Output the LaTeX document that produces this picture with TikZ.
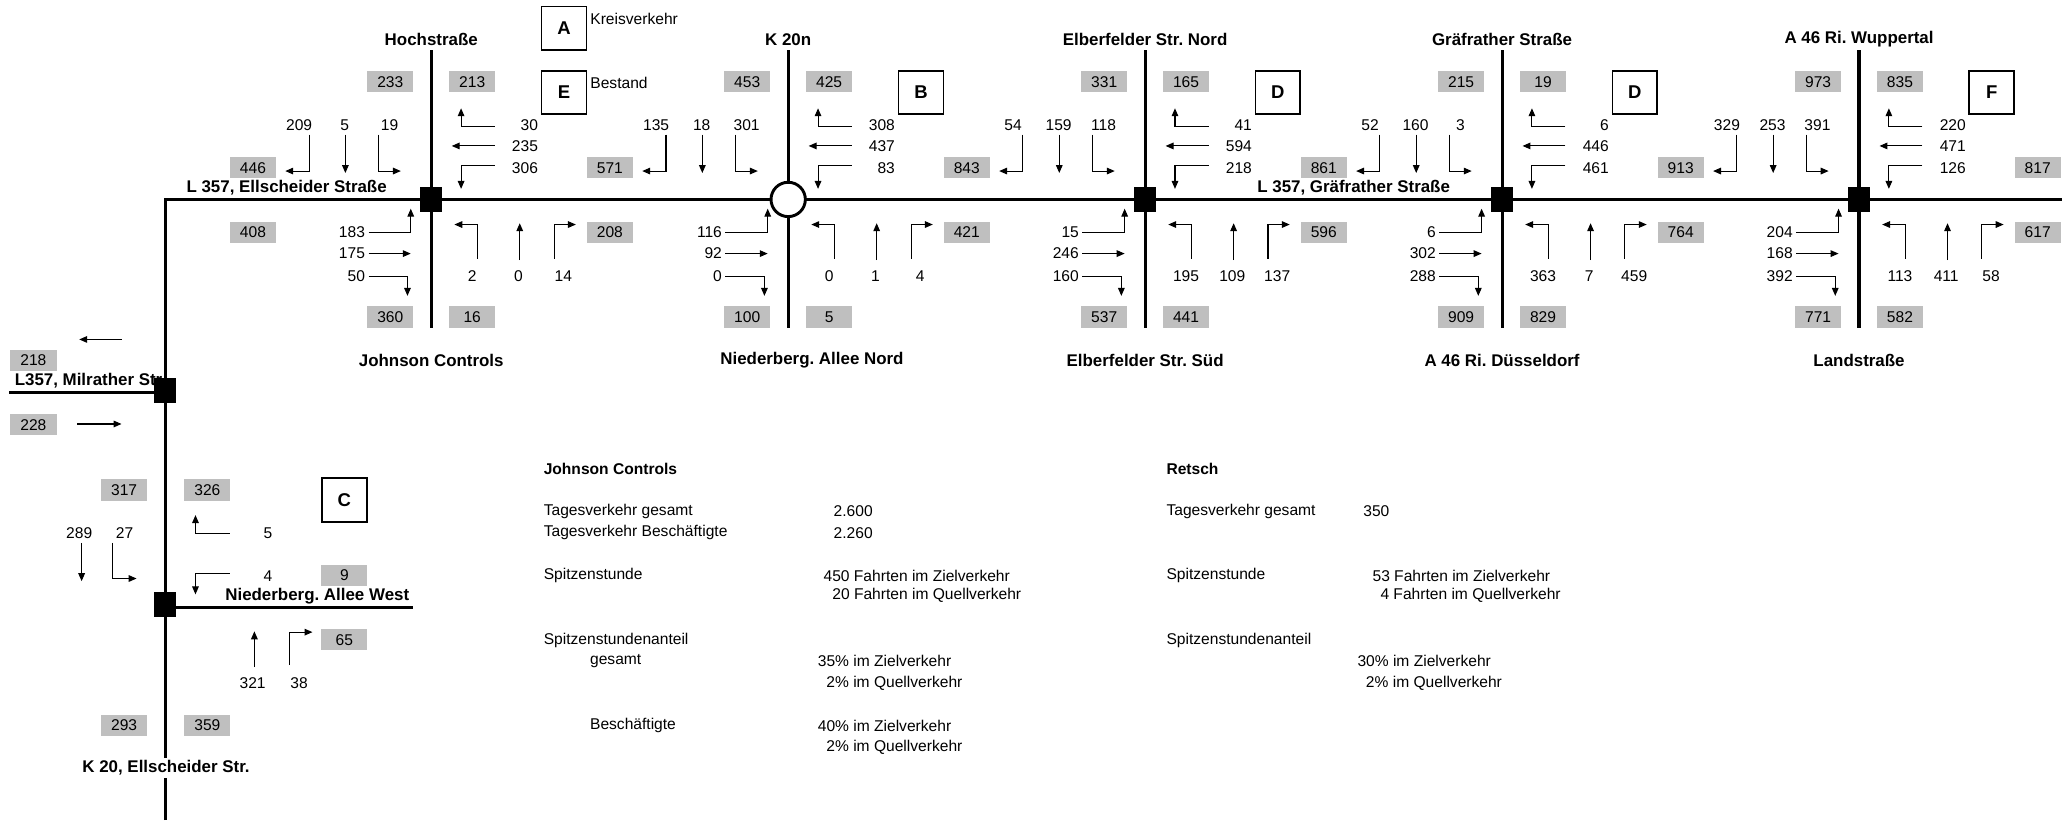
\documentclass[tikz,border=0pt]{standalone}
\usepackage{fontspec}
\setmainfont{Liberation Sans}
\usetikzlibrary{arrows.meta, positioning, calc}
\frenchspacing

\begin{document}
\begin{tikzpicture}[x=1pt, y=-1pt, >={Triangle[length=6pt, width=5pt]},
  every node/.style={inner sep=0pt},
  font=\fontsize{11.8}{14}\selectfont,
  strasse/.style={line width=2.4pt},
  fahrt/.style={->, line width=0.8pt},
  wert/.style={fill=gray!50, minimum width=35pt, minimum height=16pt},
  bez/.style={font=\fontsize{12.8}{15}\selectfont\bfseries},
  kenn/.style={draw, line width=1.3pt, minimum width=34pt, minimum height=33pt,
    font=\fontsize{14}{16}\selectfont\bfseries}]

\useasboundingbox (0,0) rectangle (1568,621);

% --- Strassen ---
\draw[strasse, line join=miter] (125,621) -- (125,151) -- (1561,151);
\draw[strasse] (7,297) -- (125,297);
\draw[strasse] (125,460) -- (313,460);
\foreach \i in {0,...,4}{
  \pgfmathsetmacro{\X}{326.5+270.25*\i}
  \draw[strasse] (\X,38) -- (\X,248);
}

% --- Strassennamen ---
\node[bez, anchor=east] (ellsch) at (293,142) {L 357, Ellscheider Straße};
\node[bez, anchor=east] (graefr) at (1098,142) {L 357, Gräfrather Straße};
\node[bez, anchor=west] (milr) at (11,288) {L357, Milrather Str.};
\node[bez, anchor=east] (nawest) at (310,451.5) {Niederberg. Allee West};
\node[bez, fill=white, inner ysep=2pt] (k20) at (125.7,581.5) {K 20, Ellscheider Str.};

% --- Knotenpunkte ---
\foreach \i in {0,2,3,4}{
  \pgfmathsetmacro{\X}{326.5+270.25*\i}
  \node[fill, minimum width=17pt, minimum height=19pt] (k\i) at (\X,151) {};
}
\node[circle, draw, fill=white, line width=2.2pt, minimum size=26pt] (k1) at (596.75,151) {};
\node[fill, minimum width=17pt, minimum height=19pt] (kmilr) at (125,295.5) {};
\node[fill, minimum width=17pt, minimum height=19pt] (kwest) at (125,458) {};

% --- Namen und Querschnittswerte je Knoten ---
\foreach \i/\oben/\unten/\dx/\nwl/\nwr/\swl/\swr/\kz in {
  0/Hochstraße/Johnson Controls/0/233/213/360/16/E,
  1/K 20n/Niederberg. Allee Nord/18/453/425/100/5/B,
  2/Elberfelder Str. Nord/Elberfelder Str. Süd/0/331/165/537/441/D,
  3/Gräfrather Straße/A 46 Ri. Düsseldorf/0/215/19/909/829/D,
  4/A 46 Ri. Wuppertal/Landstraße/0/973/835/771/582/F}{
  \pgfmathsetmacro{\X}{326.5+270.25*\i}
  \node[bez] (oben\i) at (\X,30) {\oben};
  \node[bez] (unten\i) at (\X+\dx,272.6) {\unten};
  \node[wert] (nwl\i) at (\X-31,62) {\nwl};
  \node[wert] (nwr\i) at (\X+31,62) {\nwr};
  \node[wert] (swl\i) at (\X-31,240) {\swl};
  \node[wert] (swr\i) at (\X+31,240) {\swr};
  \node[kenn] (kz\i) at (\X+100.5,70) {\kz};
}
\node[kenn] (kzA) at (427,21.5) {A};
\node[anchor=west] (kreis) at (446.8,14) {Kreisverkehr};
\node[anchor=west] (bestand) at (446.8,62.6) {Bestand};

% --- Querschnitte zwischen den Knoten ---
\foreach \i/\w/\o in {0/446/408, 1/571/208, 2/843/421, 3/861/596, 4/913/764, 5/817/617}{
  \pgfmathsetmacro{\X}{326.5+270.25*\i-135}
  \node[wert] (qw\i) at (\X,127) {\w};
  \node[wert] (qo\i) at (\X,176) {\o};
}

% --- Abbiegestroeme ---
\foreach \i/\ta/\tb/\tc/\ra/\rb/\rc/\la/\lb/\lc/\ba/\bb/\bc in {
  0/209/5/19/30/235/306/183/175/50/2/0/14,
  1/135/18/301/308/437/83/116/92/0/0/1/4,
  2/54/159/118/41/594/218/15/246/160/195/109/137,
  3/52/160/3/6/446/461/6/302/288/363/7/459,
  4/329/253/391/220/471/126/204/168/392/113/411/58}{
  \pgfmathsetmacro{\X}{326.5+270.25*\i}
  % von Norden
  \node (ta\i) at (\X-100,95) {\ta};
  \node (tb\i) at (\X-65.5,95) {\tb};
  \node (tc\i) at (\X-31.5,95) {\tc};
  \draw[fahrt] (\X-92.5,102) |- (\X-110.5,129.5);
  \draw[fahrt] (\X-65,102) -- (\X-65,131);
  \draw[fahrt] (\X-40,102) |- (\X-23,129.5);
  % von Osten
  \node[anchor=east] (ra\i) at (\X+81,95) {\ra};
  \node[anchor=east] (rb\i) at (\X+81,111) {\rb};
  \node[anchor=east] (rc\i) at (\X+81,127) {\rc};
  \draw[fahrt] (\X+48,96) -| (\X+22.6,82);
  \draw[fahrt] (\X+48,110.5) -- (\X+15.5,110.5);
  \draw[fahrt] (\X+48,125) -| (\X+22.6,143);
  % von Westen
  \node[anchor=east] (la\i) at (\X-50,176) {\la};
  \node[anchor=east] (lb\i) at (\X-50,192) {\lb};
  \node[anchor=east] (lc\i) at (\X-50,209) {\lc};
  \draw[fahrt] (\X-47.5,176) -| (\X-15.5,158);
  \draw[fahrt] (\X-47.5,192) -- (\X-15.5,192);
  \draw[fahrt] (\X-47.5,209) -| (\X-18,224);
  % von Sueden
  \node (ba\i) at (\X+31,209) {\ba};
  \node (bb\i) at (\X+66,209) {\bb};
  \node (bc\i) at (\X+100,209) {\bc};
  \draw[fahrt] (\X+35,196) |- (\X+17.5,170);
  \draw[fahrt] (\X+67,197) -- (\X+67,169);
  \draw[fahrt] (\X+93,196) |- (\X+109.5,170);
}

% --- Westlicher Ast ---
\node[wert] (w218) at (25.3,273) {218};
\node[wert] (w228) at (25.3,321.5) {228};
\draw[fahrt] (92,257) -- (60,257);
\draw[fahrt] (58.5,321) -- (92,321);
\node[wert] (w317) at (94,371) {317};
\node[wert] (w326) at (157,371) {326};
\node[wert] (w293) at (94,549) {293};
\node[wert] (w359) at (157,549) {359};
\node[kenn] (kzC) at (260.7,378.5) {C};
\node (v289) at (60,403.5) {289};
\node (v27) at (94.3,403.5) {27};
\draw[fahrt] (61.8,411) -- (61.8,440);
\draw[fahrt] (85.2,411) |- (103.4,438);
\node (v5) at (202.8,404) {5};
\node (v4) at (202.8,436) {4};
\draw[fahrt] (174,404) -| (148,390);
\draw[fahrt] (174,434) -| (148,450);
\node[wert] (w9) at (260.7,435.5) {9};
\node[wert] (w65) at (260.7,484.5) {65};
\draw[fahrt] (192.6,505) -- (192.6,478);
\draw[fahrt] (219,503.6) |- (236.6,478.6);
\node (v321) at (191.3,517) {321};
\node (v38) at (226.4,517) {38};

% --- Kennwerte Johnson Controls ---
\node[anchor=west, font=\fontsize{11.8}{14}\selectfont\bfseries] (jc) at (411.5,355) {Johnson Controls};
\node[anchor=west] (jc1) at (411.5,387) {Tagesverkehr gesamt};
\node[anchor=west] (jc1w) at (631,387) {2.600};
\node[anchor=west] (jc2) at (411.5,403.5) {Tagesverkehr Beschäftigte};
\node[anchor=west] (jc2w) at (631,403.5) {2.260};
\node[anchor=west] (jc3) at (411.5,436) {Spitzenstunde};
\node[anchor=west] (jc3w) at (623.4,436) {450 Fahrten im Zielverkehr};
\node[anchor=west] (jc4w) at (630,451) {20 Fahrten im Quellverkehr};
\node[anchor=west] (jc5) at (411.5,484.6) {Spitzenstundenanteil};
\node[anchor=west] (jc6) at (446.6,500.6) {gesamt};
\node[anchor=west] (jc6w) at (619,500.6) {35\% im Zielverkehr};
\node[anchor=west] (jc7w) at (625.5,517) {2\% im Quellverkehr};
\node[anchor=west] (jc8) at (446.6,549.6) {Beschäftigte};
\node[anchor=west] (jc8w) at (619,549.6) {40\% im Zielverkehr};
\node[anchor=west] (jc9w) at (625.5,565.6) {2\% im Quellverkehr};

% --- Kennwerte Retsch ---
\node[anchor=west, font=\fontsize{11.8}{14}\selectfont\bfseries] (re) at (883,355) {Retsch};
\node[anchor=west] (re1) at (883,387) {Tagesverkehr gesamt};
\node[anchor=west] (re1w) at (1032,387) {350};
\node[anchor=west] (re3) at (883,436) {Spitzenstunde};
\node[anchor=west] (re3w) at (1039,436) {53 Fahrten im Zielverkehr};
\node[anchor=west] (re4w) at (1045,451) {4 Fahrten im Quellverkehr};
\node[anchor=west] (re5) at (883,484.6) {Spitzenstundenanteil};
\node[anchor=west] (re6w) at (1027.6,500.6) {30\% im Zielverkehr};
\node[anchor=west] (re7w) at (1034,517) {2\% im Quellverkehr};

\end{tikzpicture}
\end{document}
